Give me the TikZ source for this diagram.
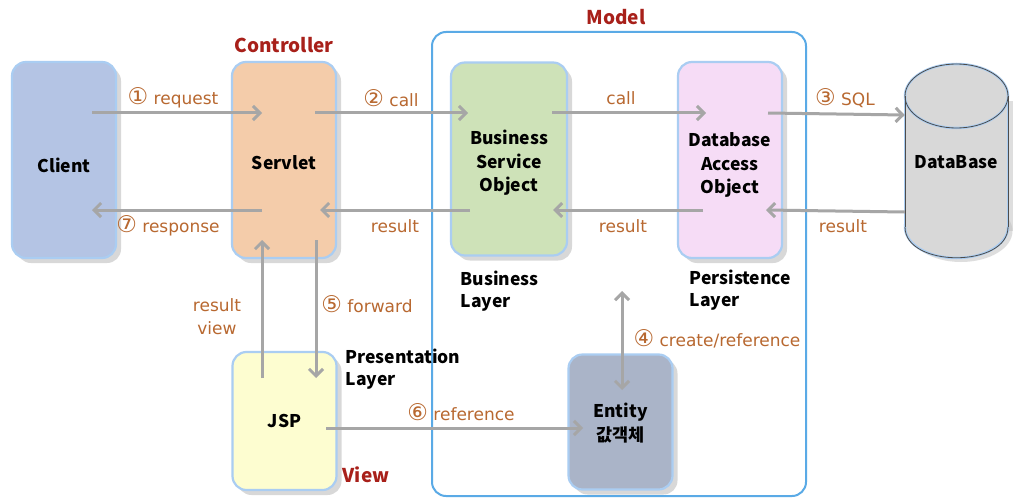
\documentclass[tikz,border=0pt]{standalone}
\usepackage{fontspec}
\setmainfont{Noto Sans CJK KR}
\newfontfamily\labfont{DejaVu Sans}
\newcommand\circd[1]{{\fontsize{23}{22}\selectfont#1}}
\usetikzlibrary{arrows.meta,shadows,calc}
\definecolor{clientc}{RGB}{180,196,228}
\definecolor{servletc}{RGB}{244,204,170}
\definecolor{bsoc}{RGB}{206,226,184}
\definecolor{daoc}{RGB}{246,220,246}
\definecolor{jspc}{RGB}{253,253,208}
\definecolor{entc}{RGB}{170,180,200}
\definecolor{dbc}{RGB}{216,216,216}
\definecolor{glow}{RGB}{170,205,242}
\definecolor{framec}{RGB}{90,170,230}
\definecolor{arrc}{RGB}{166,166,166}
\definecolor{labc}{RGB}{184,104,48}
\definecolor{titc}{RGB}{168,32,26}
\begin{document}
\begin{tikzpicture}[x=1pt,y=-1pt,
  box/.style={draw=glow, line width=2.2pt, rounded corners=14pt,
    drop shadow={opacity=0.3, shadow xshift=5pt, shadow yshift=-5pt}},
  btext/.style={align=center, font=\fontsize{17.5}{23.5}\selectfont\bfseries},
  arr/.style={draw=arrc, line width=3pt, -{Straight Barb[length=7pt,width=14pt,line width=3pt]}},
  darr/.style={draw=arrc, line width=3pt, {Straight Barb[length=7pt,width=14pt,line width=3pt]}-{Straight Barb[length=7pt,width=14pt,line width=3pt]}},
  lab/.style={text=labc, font=\labfont\fontsize{17}{22}\selectfont, align=center},
  tit/.style={text=titc, font=\fontsize{19}{22}\selectfont\bfseries},
  layer/.style={font=\fontsize{17.5}{22}\selectfont\bfseries, align=left, anchor=west}]
\fill[white] (0,0) rectangle (1024,500);
\useasboundingbox (0,0) rectangle (1024,500);
% Model frame
\node[draw=framec, line width=2pt, rounded corners=14pt, minimum width=374pt, minimum height=464pt] (modelbox) at (619,264) {};
% boxes
\node[box, fill=clientc, minimum width=104pt, minimum height=196pt] (client) at (64,160) {};
\node[box, fill=servletc, minimum width=104pt, minimum height=196pt] (servlet) at (284,160) {};
\node[box, fill=bsoc, minimum width=116pt, minimum height=193pt] (bso) at (509,159) {};
\node[box, fill=daoc, minimum width=104pt, minimum height=196pt] (dao) at (730,160) {};
\node[box, fill=jspc, minimum width=104pt, minimum height=138pt] (jsp) at (284.5,421) {};
\node[box, fill=entc, minimum width=104pt, minimum height=135pt] (entity) at (620.5,422) {};
\node[btext] (tclient) at (64,165) {Client};
\node[btext] (tservlet) at (284,163) {Servlet};
\node[btext] (tbso) at (509,163) {Business\\Service\\Object};
\node[btext] (tdao) at (730,165) {Database\\Access\\Object};
\node[btext] (tjsp) at (284.5,421) {JSP};
\node[btext] (tentity) at (620.5,423) {Entity\\값객체};
% database cylinder
\fill[black!25, opacity=0.5] (912,101) rectangle (1013,231);
\fill[black!25, opacity=0.5] (961,231) ellipse (51.5 and 31);
\draw[glow, line width=2.5pt, fill=dbc] (956.5,227) ellipse (51.5 and 31);
\fill[dbc] (905,96) rectangle (1008,227);
\draw[glow, line width=2.5pt] (905,96) -- (905,227) (1008,96) -- (1008,227);
\draw[glow, line width=2.5pt, fill=dbc] (956.5,96) ellipse (51.5 and 32);
\draw[black!70, line width=0.8pt] (905,227) -- (905,96) (1008,96) -- (1008,227);
\draw[black!70, line width=0.8pt] (956.5,96) ellipse (51.5 and 32);
\draw[black!70, line width=0.8pt] (905,227) .. controls (905,268) and (1008,268) .. (1008,227);
\node[minimum width=103pt, minimum height=193pt] (db) at (956.5,162) {};
\node[btext] (tdb) at (956.5,162) {DataBase};
% titles
\node[tit] (tcontroller) at (284,45) {Controller};
\node[tit] (tmodel) at (616,17) {Model};
\node[tit] (tview) at (366,475) {View};
\node[layer] (lbusiness) at (457,291) {Business\\Layer};
\node[layer] (lpersist) at (686,290) {Persistence\\Layer};
\node[layer] (lpresent) at (342,369) {Presentation\\Layer};
% arrows
\draw[arr] ($(client.center)+(28,-47)$) -- ($(servlet.center)+(-22,-47)$);
\draw[arr] ($(servlet.center)+(31,-47)$) -- ($(bso.center)+(-41,-46)$);
\draw[arr] ($(bso.center)+(43,-46)$) -- ($(dao.center)+(-24,-47)$);
\draw[arr] ($(dao.center)+(38,-47)$) -- ($(db.west)+(0,-47)$);
\draw[arr] ($(db.west)+(0,50)$) -- ($(dao.center)+(36,50)$);
\draw[arr] ($(dao.center)+(-27,50)$) -- ($(bso.center)+(44,51)$);
\draw[arr] ($(bso.center)+(-39,51)$) -- ($(servlet.center)+(36,50)$);
\draw[arr] ($(servlet.center)+(-22,50)$) -- ($(client.center)+(28,50)$);
\draw[arr] ($(jsp.center)+(-22.5,-43)$) -- ($(servlet.center)+(-22,80)$);
\draw[arr] ($(servlet.center)+(32,80)$) -- ($(jsp.center)+(31.5,-43)$);
\coordinate (c4) at (622,291);
\draw[darr] (c4) -- ($(entity.center)+(1.5,-32)$);
\draw[arr] ($(jsp.center)+(41.5,7)$) -- ($(entity.center)+(-37.5,6)$);
% labels
\node[lab] (l1) at (173,98) {\circd{①} request};
\node[lab] (l2) at (391,98) {\circd{②} call};
\node[lab] (l2b) at (621,98) {call};
\node[lab] (l3) at (845,98) {\circd{③} SQL};
\node[lab] (lr1) at (843,226) {result};
\node[lab] (lr2) at (623,226) {result};
\node[lab] (lr3) at (395,226) {result};
\node[lab] (l7) at (168,226) {\circd{⑦} response};
\node[lab, font=\labfont\fontsize{17}{23}\selectfont] (lrv) at (217,317) {result\\view};
\node[lab] (l5) at (367,304) {\circd{⑤} forward};
\node[lab] (l4) at (717,339) {\circd{④} create/reference};
\node[lab] (l6) at (461,412) {\circd{⑥} reference};
\end{tikzpicture}
\end{document}
